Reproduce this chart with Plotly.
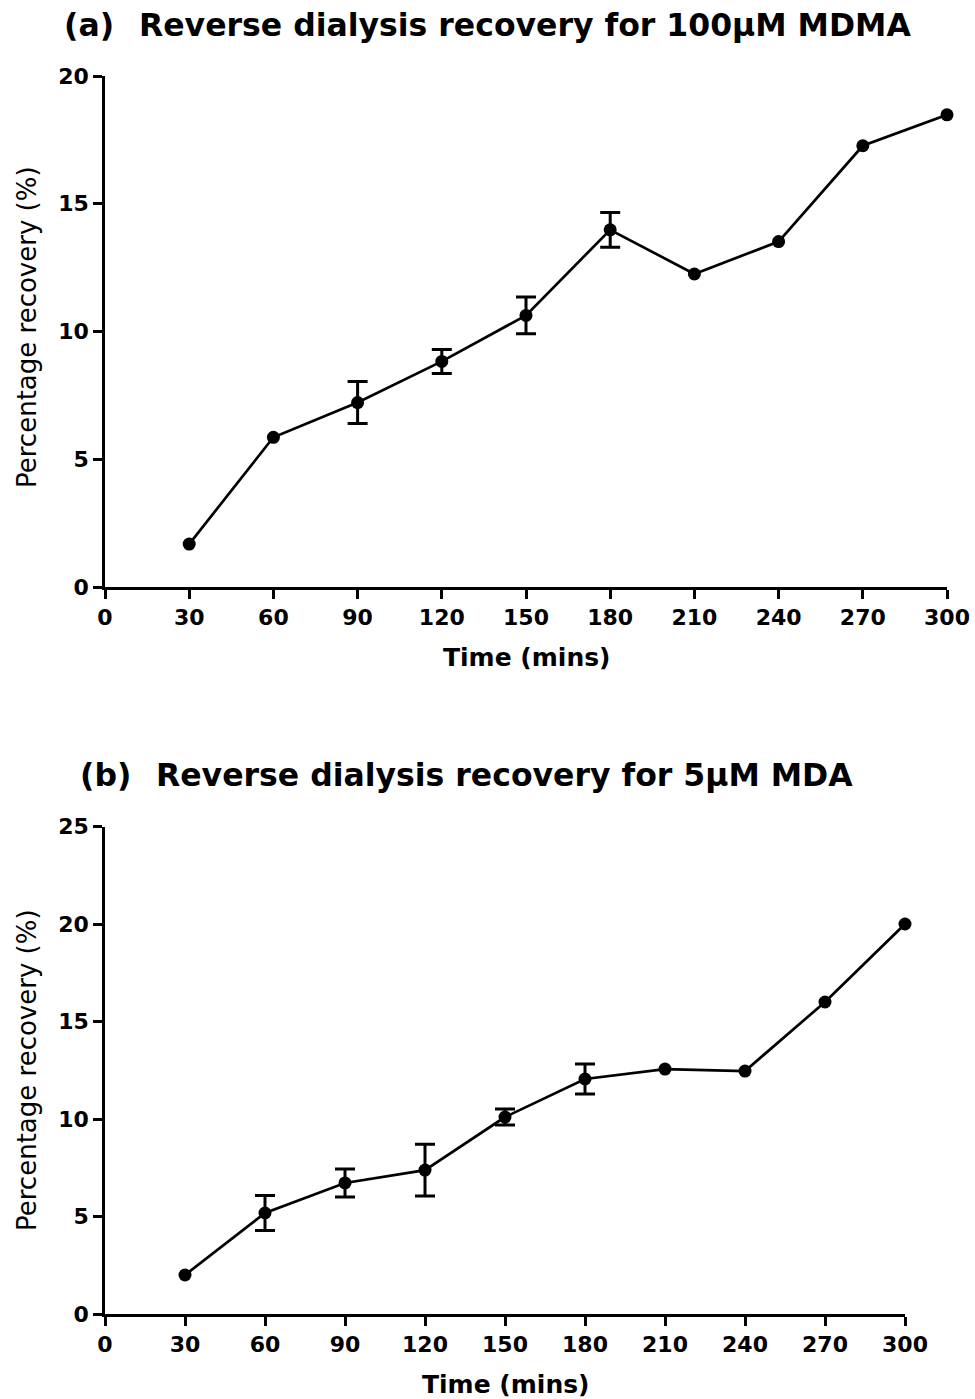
import plotly.graph_objects as go

# ---- data ----
time_mins = [30, 60, 90, 120, 150, 180, 210, 240, 270, 300]

mdma_recovery = [1.68, 5.86, 7.22, 8.83, 10.63, 13.98, 12.25, 13.52, 17.27, 18.48]
mdma_err = [0, 0, 0.82, 0.47, 0.72, 0.68, 0, 0, 0, 0]

mda_recovery = [2.0, 5.18, 6.72, 7.38, 10.1, 12.05, 12.56, 12.46, 16.0, 20.0]
mda_err = [0, 0.9, 0.72, 1.33, 0.41, 0.77, 0, 0, 0, 0]

x_ticks = [0, 30, 60, 90, 120, 150, 180, 210, 240, 270, 300]
y_ticks_a = [0, 5, 10, 15, 20]
y_ticks_b = [0, 5, 10, 15, 20, 25]

title_a = "Reverse dialysis recovery for 100\u00b5M MDMA"
title_b = "Reverse dialysis recovery for 5\u00b5M MDA"
x_title = "Time (mins)"
y_title = "Percentage recovery (%)"

FONT = "DejaVu Sans"
BLACK = "#000000"

fig = go.Figure()

def add_series(x, y, err, xa, ya):
    # error bars only where an error was shown
    idx = [i for i, e in enumerate(err) if e > 0]
    fig.add_trace(go.Scatter(
        x=[x[i] for i in idx], y=[y[i] for i in idx], xaxis=xa, yaxis=ya,
        mode="markers", marker=dict(color=BLACK, size=1, opacity=0),
        error_y=dict(type="data", array=[err[i] for i in idx], visible=True,
                     color=BLACK, thickness=3, width=10),
        showlegend=False, hoverinfo="skip", cliponaxis=False,
    ))
    fig.add_trace(go.Scatter(
        x=x, y=y, xaxis=xa, yaxis=ya, mode="lines+markers",
        line=dict(color=BLACK, width=2.7),
        marker=dict(color=BLACK, size=13),
        showlegend=False, cliponaxis=False,
    ))

add_series(time_mins, mdma_recovery, mdma_err, "x", "y")
add_series(time_mins, mda_recovery, mda_err, "x2", "y2")

W, H = 975, 1399
L, R, T, B = 105, 28, 76, 85
pw, ph = W - L - R, H - T - B

def px(x):
    return (x - L) / pw

def py(y):
    return (H - B - y) / ph

axis_common = dict(
    showline=True, linecolor=BLACK, linewidth=2.5, mirror=False,
    ticks="outside", ticklen=9, tickwidth=2.5, tickcolor=BLACK,
    showgrid=False, zeroline=False, automargin=False,
    tickfont=dict(family=FONT, size=22, color=BLACK, weight="bold"),
)

fig.update_layout(
    width=W, height=H,
    margin=dict(l=L, r=R, t=T, b=B, autoexpand=False),
    paper_bgcolor="white", plot_bgcolor="white",
    font=dict(family=FONT, color=BLACK),
    xaxis=dict(domain=[0, 1], anchor="y", range=[0, 300], tickvals=x_ticks, **axis_common),
    yaxis=dict(domain=[py(587), 1.0], anchor="x", range=[0, 20], tickvals=y_ticks_a, **axis_common),
    xaxis2=dict(domain=[0, px(905)], anchor="y2", range=[0, 300], tickvals=x_ticks, **axis_common),
    yaxis2=dict(domain=[0, py(826.5)], anchor="x2", range=[0, 25], tickvals=y_ticks_b, **axis_common),
)

ann = []
bold = dict(family=FONT, size=31.5, color=BLACK, weight="bold")
ann.append(dict(text="(a)", x=px(62), y=py(25), xref="paper", yref="paper",
                xanchor="left", yanchor="middle", showarrow=False, font=bold))
ann.append(dict(text=title_a, x=px(137), y=py(25), xref="paper", yref="paper",
                xanchor="left", yanchor="middle", showarrow=False, font=bold))
ann.append(dict(text="(b)", x=px(78), y=py(775), xref="paper", yref="paper",
                xanchor="left", yanchor="middle", showarrow=False, font=bold))
ann.append(dict(text=title_b, x=px(154), y=py(775), xref="paper", yref="paper",
                xanchor="left", yanchor="middle", showarrow=False, font=bold))

xt_font = dict(family=FONT, size=25, color=BLACK, weight="bold")
ann.append(dict(text=x_title, x=px(526), y=py(657), xref="paper", yref="paper",
                xanchor="center", yanchor="middle", showarrow=False, font=xt_font))
ann.append(dict(text=x_title, x=px(505), y=py(1384), xref="paper", yref="paper",
                xanchor="center", yanchor="middle", showarrow=False, font=xt_font))

yt_font = dict(family=FONT, size=26, color=BLACK)
ann.append(dict(text=y_title, x=px(27), y=py(327), xref="paper", yref="paper",
                xanchor="center", yanchor="middle", showarrow=False, textangle=-90, font=yt_font))
ann.append(dict(text=y_title, x=px(27), y=py(1070), xref="paper", yref="paper",
                xanchor="center", yanchor="middle", showarrow=False, textangle=-90, font=yt_font))

fig.update_layout(annotations=ann)

fig.write_html("out.html", config={"displayModeBar": False},
               post_script="document.body.style.margin='0px';")
